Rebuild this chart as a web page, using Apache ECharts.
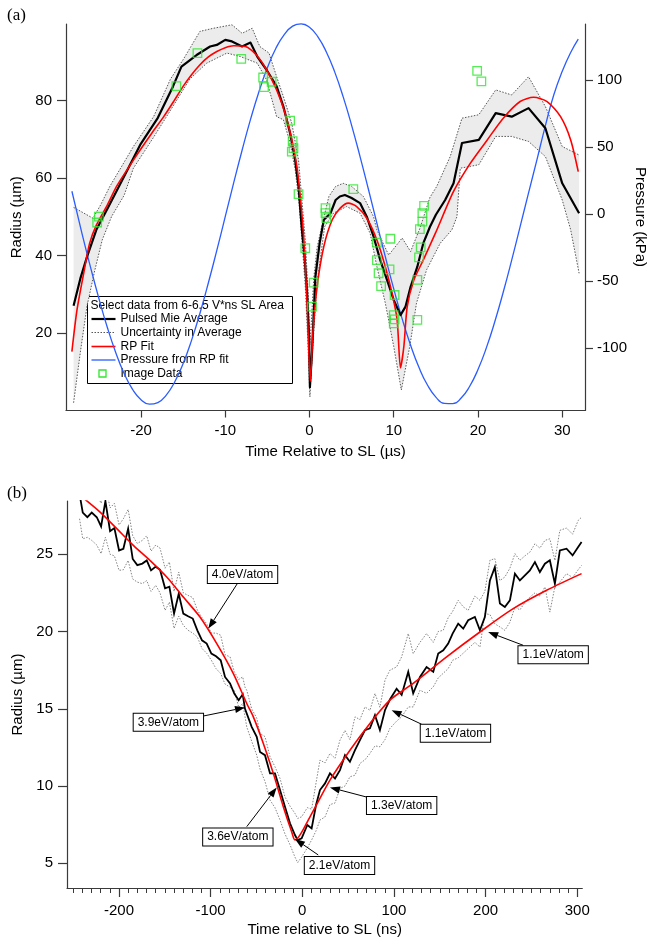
<!DOCTYPE html>
<html>
<head>
<meta charset="utf-8">
<script src="https://cdn.jsdelivr.net/npm/echarts@6/dist/echarts.min.js"></script>
<style>
  html, body { margin: 0; padding: 0; background: #ffffff; }
  #chart { width: 649px; height: 942px; }
</style>
</head>
<body>
<div id="chart"></div>
<script>
// ---------- Panel (a): microsecond time scale ----------
const meanTimeUs = [-28.0,-27.2,-26.4,-25.3,-24.0,-22.1,-20.1,-18.0,-16.2,-15.2,-13.4,-11.8,-11.0,-10.0,-9.2,-8.0,-7.0,-6.2,-5.1,-3.9,-3.1,-2.3,-1.7,-1.3,-0.9,-0.6,-0.3,-0.05,0.05,0.3,0.7,1.2,1.7,2.5,3.1,3.6,4.2,5.0,6.0,6.8,7.6,8.4,9.2,10.0,10.8,11.4,12.0,12.8,13.5,14.3,15.0,16.1,17.1,18.1,20.1,22.1,24.0,26.0,28.0,30.0,32.0];
const meanRadiusUm = [27.0,34.0,39.7,46.6,52.0,60.0,68.5,75.5,83.6,88.7,91.7,93.9,94.3,95.6,95.2,93.9,94.9,91.3,87.9,83.6,78.4,71.5,64.6,57.8,46.6,40.0,31.0,19.0,6.0,15.0,34.5,43.1,49.2,50.9,54.3,55.2,55.6,54.8,53.5,50.0,44.9,38.8,33.7,28.5,24.6,26.8,31.9,37.1,43.1,47.4,50.5,54.3,58.6,69.0,69.8,76.7,75.8,78.0,72.8,58.6,50.9];

const upperTimeUs = [-28.0,-25.7,-24.8,-23.7,-20.9,-18.5,-16.5,-15.0,-13.0,-11.4,-9.2,-8.0,-6.8,-5.9,-4.8,-3.9,-3.1,-2.1,-1.3,-0.9,-0.5,-0.15,0.05,0.25,0.5,0.9,1.4,2.3,3.1,4.0,5.0,6.4,7.6,8.0,9.4,11.0,12.0,13.1,14.3,15.1,16.7,18.1,20.1,22.1,24.0,26.0,28.0,30.0,32.0];
const upperRadiusUm = [52.4,49.6,53.0,57.8,68.1,75.8,85.5,90.5,97.8,98.6,99.5,97.3,98.6,93.9,92.2,86.1,81.0,74.1,64.6,54.3,44.0,30.0,17.0,24.0,34.0,42.0,47.0,55.2,57.8,58.6,57.8,55.2,50.0,46.6,40.1,44.5,41.0,47.0,55.0,57.8,65.5,75.4,76.3,82.7,81.4,86.1,78.4,68.1,65.9];

const lowerTimeUs = [-28.0,-27.2,-26.4,-25.5,-24.6,-23.5,-22.0,-20.9,-18.5,-16.2,-14.2,-12.2,-9.8,-8.2,-6.2,-5.1,-3.9,-3.1,-2.3,-1.7,-1.3,-0.9,-0.5,-0.2,0.05,0.2,0.5,0.9,1.8,2.85,4.4,6.0,7.2,8.0,9.0,10.0,10.9,11.9,12.7,13.9,15.5,16.9,17.5,17.9,20.1,22.1,24.0,26.0,28.0,30.0,31.0,32.0];
const lowerRadiusUm = [2.0,15.0,27.0,36.0,44.0,50.0,55.5,62.5,70.5,78.5,85.5,89.6,92.2,91.3,89.6,85.3,75.8,75.0,69.0,62.1,55.0,44.0,32.0,18.0,3.5,10.0,20.0,33.0,47.4,50.9,52.6,50.9,45.7,37.1,27.7,16.5,5.3,16.5,27.7,36.3,43.1,46.6,50.0,62.5,63.4,70.7,70.7,69.4,65.5,54.3,46.6,35.4];

const fitTimeUs = [-28.2,-27.6,-26.8,-26.1,-25.3,-24.0,-22.9,-21.5,-20.1,-18.7,-17.3,-16.1,-15.0,-14.0,-13.0,-12.0,-11.0,-10.0,-9.0,-7.6,-6.3,-5.1,-3.9,-2.9,-2.1,-1.5,-1.1,-0.7,-0.3,0.1,0.4,0.9,1.7,2.7,3.65,4.6,5.6,6.8,8.0,9.0,9.8,10.4,10.8,11.2,11.6,12.4,13.5,15.0,17.1,19.1,21.1,23.0,25.0,26.6,28.2,29.8,31.0,31.9];
const fitRadiusUm = [15.2,25.9,35.4,43.1,47.8,53.0,57.8,62.6,67.2,71.6,75.8,79.8,83.6,86.6,89.2,91.2,92.6,93.6,94.1,93.9,91.7,87.9,82.7,76.7,69.8,62.9,55.2,45.0,28.5,7.5,19.9,31.9,42.3,49.2,52.2,53.5,52.6,49.6,44.0,37.1,30.2,23.4,11.0,16.5,26.8,33.7,38.8,46.0,56.5,63.8,69.8,75.4,79.7,80.8,79.7,75.8,69.8,61.6];

const pressureTimeUs = [-28.2,-27,-26,-25,-24,-23,-22,-21,-20,-19,-18,-17,-16,-15,-14,-13,-12,-11,-10,-9,-8,-7,-6,-5,-4,-3,-2,-1,0,1,2,3,4,5,6,7,8,9,10,11,12,13,14,15,16,17,18,19,20,21,22,23,24,25,26,27,28,29,30,31,31.9];
const pressureKPa = [17.0,-14.6,-39.4,-62.9,-84.5,-103.3,-119.0,-130.8,-138.5,-141.9,-140.7,-135.1,-125.3,-111.6,-94.3,-74.0,-51.3,-27.1,-2.0,23.2,47.6,70.6,91.3,109.1,123.5,133.9,140.2,142.0,139.3,132.2,120.9,105.9,87.4,66.2,42.9,18.3,-6.9,-31.9,-55.9,-78.2,-97.9,-114.6,-127.6,-136.6,-141.3,-141.5,-137.3,-128.7,-116.0,-99.7,-80.2,-58.2,-34.4,-9.4,15.8,40.6,66.0,89.0,106.5,120.5,130.5];

const imageTimeUs = [-25.2,-25.0,-15.8,-13.3,-8.1,-5.5,-5.4,-4.5,-2.3,-2.0,-1.9,-2.1,-1.3,-0.5,0.3,0.5,1.9,1.9,2.0,5.2,8.0,8.0,8.2,8.5,9.5,9.6,10.1,10.0,10.1,10.0,12.8,12.8,13.0,13.2,13.1,13.4,13.4,13.6,19.9,20.4];
const imageRadiusUm = [48.5,50.0,83.7,92.2,90.7,85.9,83.4,84.8,74.8,69.5,67.7,66.8,55.8,41.9,26.8,33.0,52.2,50.9,49.6,57.1,43.3,38.8,35.4,32.1,36.4,44.3,29.8,24.6,23.5,22.5,23.4,33.7,39.5,42.1,46.8,48.7,50.9,52.8,87.6,84.9];

const radiusTicksA = [20, 40, 60, 80];
const pressureTicksA = [-100, -50, 0, 50, 100];
const timeTicksA = [-20, -10, 0, 10, 20, 30];

// ---------- Panel (b): nanosecond time scale ----------
const meanTimeNs = [-243,-239.5,-234.5,-229.7,-224.2,-219.5,-214.8,-209.7,-205,-199.9,-195.2,-190,-185,-180,-174.5,-169.7,-165,-159.9,-155.2,-149.7,-145,-139.9,-134.8,-129.8,-124.6,-119.5,-114.5,-109.4,-104.3,-99.2,-94.1,-89,-84.3,-78.8,-74.2,-69.4,-65,-62.5,-60.6,-55.2,-49.7,-46.1,-40.7,-35.2,-29.8,-24.3,-18.9,-13.4,-8.0,-5.0,-0.7,5.5,10.2,15,19.3,24.8,30.2,35.7,41.1,46.6,52,57.5,62.9,68.4,73.8,79.3,84.7,90.2,95.6,102.9,108.4,115.6,121,128.4,135.6,142.9,148.3,153.8,159.2,164,170.1,175.6,181,188.3,193.8,199.2,204.7,210.1,215.6,221,226.5,232,237.4,242.9,248.3,253.8,259.2,264.7,270.1,275.6,281,288.3,294.9,301,304.7];
const meanRadiusB = [28.9,27.7,27.4,27.7,27.4,26.8,28.44,26.5,26.7,25.25,25.36,26.66,24.7,24.3,24.4,24.6,23.96,24.2,24.0,22.8,22.9,21.16,22.45,21.16,20.99,20.84,20.08,19.43,19.22,18.57,18.4,18.14,17.06,16.64,15.99,15.56,15.94,15.0,15.0,13.83,13.18,12.2,12.0,10.82,10.82,9.74,8.66,7.59,6.83,6.5,6.62,7.48,7.26,8.77,9.74,10.17,10.82,10.49,11.03,12.0,11.57,12.32,12.97,13.62,13.73,14.59,13.62,14.91,15.6,16.3,15.9,17.39,16.0,17.06,17.71,17.39,18.58,18.79,19.22,19.87,20.51,20.19,20.73,20.94,20.08,20.94,23.31,24.17,21.81,21.59,22.02,23.75,23.31,23.64,23.96,24.5,23.85,24.39,24.61,23.1,25.25,25.36,24.93,25.47,25.79];
const upperRadiusB = [29.6,29.1,28.6,29.2,28.9,28.3,29.5,28.0,28.3,26.9,27.3,27.9,26.2,25.7,25.9,26.2,25.2,25.6,25.4,24.1,24.5,22.6,23.85,22.5,22.34,22.2,21.4,20.9,20.5,19.9,19.9,19.76,18.5,18.36,17.4,16.9,17.06,16.4,16.2,15.0,14.4,13.4,13.2,11.9,11.25,10.5,9.3,8.7,8.23,7.9,8.01,8.6,8.5,10.2,11.68,11.5,12.11,11.8,12.97,13.6,13.0,14.48,14.3,15.12,14.9,15.99,15.1,16.85,17.5,17.71,18.36,19.87,18.57,19.3,19.87,19.3,20.0,20.08,20.9,21.3,22.02,21.6,21.37,22.3,22.02,22.6,24.61,24.72,23.3,23.53,24.1,25.04,24.61,24.9,25.14,25.68,25.4,25.9,26.0,24.6,26.55,26.7,26.3,27.19,27.4];
const lowerRadiusB = [27.3,26.0,26.1,25.9,25.6,25.04,26.1,25.0,24.9,23.96,24.0,24.6,23.4,23.2,23.1,23.3,22.6,22.99,22.5,21.37,21.9,20.2,21.0,20.4,20.08,19.9,19.65,18.9,18.6,18.14,17.6,17.28,16.6,16.4,16.2,15.1,15.34,14.5,13.83,12.9,12.0,11.1,10.3,9.09,8.6,7.8,6.9,6.2,5.4,5.04,5.4,6.0,6.51,7.1,7.8,8.0,8.8,8.9,9.85,10.0,10.6,10.7,11.46,11.7,12.11,12.6,12.54,13.0,13.73,14.2,14.48,15.12,15.12,16.2,16.0,16.42,17.0,17.3,17.6,18.14,18.3,18.6,18.9,19.3,19.0,21.16,21.1,20.5,20.3,20.08,20.6,21.59,21.4,21.9,22.23,22.5,22.3,22.88,21.26,22.9,23.2,23.75,23.5,24.0,24.28];

const fitTimeNs = [-238,-220.6,-202.4,-184.3,-166.1,-147.9,-129.8,-111.6,-93.3,-75.2,-60.6,-53.4,-42.5,-31.6,-20.7,-11.6,-8.0,8.4,30.2,52,73.8,95.6,121,157.5,193.8,230.1,266.5,304.7];
const fitRadiusNs = [28.6,27.73,26.66,25.58,24.6,23.53,22.23,20.94,19.22,17.28,15.34,14.48,12.76,10.82,8.66,7.04,6.51,8.01,10.38,12.32,14.05,15.56,16.64,18.36,19.97,21.48,22.67,23.75];

// Energy annotations: label box, arrow tail and arrow tip in data units
const annoText = ['4.0eV/atom','3.9eV/atom','3.6eV/atom','2.1eV/atom','1.3eV/atom','1.1eV/atom','1.1eV/atom'];
const annoBoxTime = [-65.2,-146.1,-70.3,40.6,108.4,167.1,273.7];
const annoBoxRadius = [23.70,14.13,6.70,4.86,8.74,13.41,18.5];
const annoTailTime = [-70.9,-109,-60.6,17.4,71.3,130.2,241];
const annoTailRadius = [23.1,14.52,7.37,5.54,9.27,14.0,19.11];
const annoTipTime = [-102.5,-62.5,-27.9,-8.0,30.2,97.5,202.8];
const annoTipRadius = [20.19,15.08,9.91,6.57,9.91,14.91,19.97];

const radiusTicksB = [5, 10, 15, 20, 25];
const timeTicksB = [-200, -100, 0, 100, 200, 300];
const minorTicksB = [];
for (let v = -250; v <= 300; v += 10) minorTicksB.push(v);

// ---------- helpers ----------
const SANS = '"Liberation Sans", Arial, Helvetica, sans-serif';
const SERIF = '"Liberation Serif", "Times New Roman", serif';
const AXIS_COLOR = '#3a3a3a';
const pairs = (xs, ys) => xs.map((x, i) => [x, ys[i]]);

function valueAxis(extra) {
  return Object.assign({
    type: 'value',
    axisLine: { show: true, onZero: false, lineStyle: { color: AXIS_COLOR, width: 1.2 } },
    axisTick: { show: true, lineStyle: { color: AXIS_COLOR, width: 1.2 } },
    axisLabel: { color: '#000', fontSize: 15, fontFamily: SANS },
    splitLine: { show: false },
    nameLocation: 'middle',
    nameTextStyle: { color: '#000', fontSize: 15, fontFamily: SANS }
  }, extra);
}

const chart = echarts.init(document.getElementById('chart'), null, { renderer: 'canvas' });

const option = {
  animation: false,
  backgroundColor: '#ffffff',
  grid: [
    { left: 66, top: 24, width: 519, height: 386.5, containLabel: false, outerBoundsMode: 'none' },
    { left: 67, top: 501, width: 515.3, height: 387, containLabel: false, outerBoundsMode: 'none' }
  ],
  xAxis: [
    valueAxis({
      gridIndex: 0, min: -28.9, max: 32.7,
      axisTick: { show: true, length: 7, customValues: timeTicksA, lineStyle: { color: AXIS_COLOR, width: 1.2 } },
      axisLabel: { customValues: timeTicksA, margin: 13, color: '#000', fontSize: 15, fontFamily: SANS },
      name: 'Time Relative to SL (\u00b5s)', nameGap: 34
    }),
    valueAxis({
      gridIndex: 1, min: -256.7, max: 305.5, position: 'bottom',
      axisTick: { show: true, length: 9, customValues: timeTicksB, lineStyle: { color: AXIS_COLOR, width: 1.2 } },
      axisLabel: { customValues: timeTicksB, margin: 15, color: '#000', fontSize: 15, fontFamily: SANS },
      name: 'Time relative to SL (ns)', nameGap: 34
    }),
    valueAxis({
      gridIndex: 1, min: -256.7, max: 305.5, position: 'bottom',
      axisLine: { show: false, onZero: false },
      axisTick: { show: true, length: 5, customValues: minorTicksB, lineStyle: { color: AXIS_COLOR, width: 1 } },
      axisLabel: { show: false }
    })
  ],
  yAxis: [
    valueAxis({
      gridIndex: 0, min: 0, max: 99.7, position: 'left',
      axisTick: { show: true, length: 9, customValues: radiusTicksA, lineStyle: { color: AXIS_COLOR, width: 1.2 } },
      axisLabel: { customValues: radiusTicksA, margin: 14, color: '#000', fontSize: 15, fontFamily: SANS },
      name: 'Radius (\u00b5m)', nameGap: 39
    }),
    valueAxis({
      gridIndex: 0, min: -146.6, max: 141.8, position: 'right',
      axisTick: { show: true, length: 8, customValues: pressureTicksA, lineStyle: { color: AXIS_COLOR, width: 1.2 } },
      axisLabel: { customValues: pressureTicksA, margin: 12, color: '#000', fontSize: 15, fontFamily: SANS }
    }),
    valueAxis({
      gridIndex: 1, min: 3.4, max: 28.45, position: 'left',
      axisTick: { show: true, length: 9, customValues: radiusTicksB, lineStyle: { color: AXIS_COLOR, width: 1.2 } },
      axisLabel: { customValues: radiusTicksB, margin: 14, color: '#000', fontSize: 15, fontFamily: SANS },
      name: 'Radius (\u00b5m)', nameGap: 39
    })
  ],
  series: [
    // uncertainty envelope of the averaged radius
    {
      type: 'custom', xAxisIndex: 0, yAxisIndex: 0, z: 1, silent: true,
      data: [[0, 0]],
      renderItem: function (params, api) {
        const pts = [];
        for (let i = 0; i < upperTimeUs.length; i++) pts.push(api.coord([upperTimeUs[i], upperRadiusUm[i]]));
        for (let i = lowerTimeUs.length - 1; i >= 0; i--) pts.push(api.coord([lowerTimeUs[i], lowerRadiusUm[i]]));
        return { type: 'polygon', shape: { points: pts }, style: { fill: '#ececec', stroke: null } };
      }
    },
    {
      type: 'line', xAxisIndex: 0, yAxisIndex: 0, z: 2, showSymbol: false, silent: true,
      data: pairs(upperTimeUs, upperRadiusUm),
      lineStyle: { color: '#444', width: 0.9, type: [1.5, 1.5] }
    },
    {
      type: 'line', xAxisIndex: 0, yAxisIndex: 0, z: 2, showSymbol: false, silent: true,
      data: pairs(lowerTimeUs, lowerRadiusUm),
      lineStyle: { color: '#444', width: 0.9, type: [1.5, 1.5] }
    },
    {
      type: 'line', xAxisIndex: 0, yAxisIndex: 1, z: 3, showSymbol: false, silent: true, smooth: true,
      data: pairs(pressureTimeUs, pressureKPa),
      lineStyle: { color: '#2a5cff', width: 1.3 }
    },
    {
      type: 'line', xAxisIndex: 0, yAxisIndex: 0, z: 4, showSymbol: false, silent: true,
      data: pairs(meanTimeUs, meanRadiusUm),
      lineStyle: { color: '#000', width: 2.2, join: 'round' }
    },
    {
      type: 'line', xAxisIndex: 0, yAxisIndex: 0, z: 5, showSymbol: false, silent: true, smooth: 0.25,
      data: pairs(fitTimeUs, fitRadiusUm),
      lineStyle: { color: '#ff0000', width: 1.6 }
    },
    {
      type: 'scatter', xAxisIndex: 0, yAxisIndex: 0, z: 6, silent: true,
      symbol: 'rect', symbolSize: 8.5,
      data: pairs(imageTimeUs, imageRadiusUm),
      itemStyle: { color: 'rgba(0,0,0,0)', borderColor: '#2ee62e', borderWidth: 1.3 }
    },

    // panel (b)
    {
      type: 'line', xAxisIndex: 1, yAxisIndex: 2, z: 2, showSymbol: false, silent: true,
      data: pairs(meanTimeNs, upperRadiusB),
      lineStyle: { color: '#777', width: 0.9, type: [1.5, 1.5] }
    },
    {
      type: 'line', xAxisIndex: 1, yAxisIndex: 2, z: 2, showSymbol: false, silent: true,
      data: pairs(meanTimeNs, lowerRadiusB),
      lineStyle: { color: '#777', width: 0.9, type: [1.5, 1.5] }
    },
    {
      type: 'line', xAxisIndex: 1, yAxisIndex: 2, z: 4, showSymbol: false, silent: true,
      data: pairs(meanTimeNs, meanRadiusB),
      lineStyle: { color: '#000', width: 1.8, join: 'miter' }
    },
    {
      type: 'line', xAxisIndex: 1, yAxisIndex: 2, z: 5, showSymbol: false, silent: true, smooth: 0.3,
      data: pairs(fitTimeNs, fitRadiusNs),
      lineStyle: { color: '#ff0000', width: 1.6 }
    },
    {
      type: 'custom', xAxisIndex: 1, yAxisIndex: 2, z: 10, silent: true, clip: false,
      data: annoText.map((s, i) => [annoTipTime[i], annoTipRadius[i]]),
      renderItem: function (params, api) {
        const i = params.dataIndex;
        const tip = api.coord([annoTipTime[i], annoTipRadius[i]]);
        const tail = api.coord([annoTailTime[i], annoTailRadius[i]]);
        const box = api.coord([annoBoxTime[i], annoBoxRadius[i]]);
        const dx = tip[0] - tail[0], dy = tip[1] - tail[1];
        const len = Math.hypot(dx, dy);
        const ux = dx / len, uy = dy / len;
        const headLen = 10, headHalf = 3.6;
        const base = [tip[0] - ux * headLen, tip[1] - uy * headLen];
        const px = -uy, py = ux;
        return {
          type: 'group',
          children: [
            { type: 'line', shape: { x1: tail[0], y1: tail[1], x2: base[0], y2: base[1] },
              style: { stroke: '#000', lineWidth: 1 } },
            { type: 'polygon', shape: { points: [tip, [base[0] + px * headHalf, base[1] + py * headHalf], [base[0] - px * headHalf, base[1] - py * headHalf]] },
              style: { fill: '#000', stroke: null } },
            { type: 'text', x: box[0], y: box[1],
              style: { text: annoText[i], fontSize: 12, fontFamily: SANS, fill: '#000',
                       align: 'center', verticalAlign: 'middle',
                       backgroundColor: '#ffffff', borderColor: '#000', borderWidth: 1,
                       padding: [3, 4, 2, 4] } }
          ]
        };
      }
    }
  ],
  graphic: [
    { type: 'text', x: 7, y: 16, style: { text: '(a)', font: '17px ' + SERIF, fill: '#000', verticalAlign: 'middle' } },
    { type: 'text', x: 7, y: 494, style: { text: '(b)', font: '17px ' + SERIF, fill: '#000', verticalAlign: 'middle' } },
    // right-hand axis title, reading top to bottom
    { type: 'text', x: 640, y: 217, rotation: -Math.PI / 2,
      style: { text: 'Pressure (kPa)', font: '15px ' + SANS, fill: '#000', align: 'center', verticalAlign: 'middle' } },
    {
      type: 'group', x: 87.5, y: 296.5, z: 100,
      children: [
        { type: 'rect', shape: { x: 0, y: 0, width: 205, height: 87 }, style: { fill: '#fff', stroke: '#000', lineWidth: 1 } },
        { type: 'text', x: 3, y: 9, style: { text: 'Select data from 6-6.5 V*ns SL Area', font: '12px ' + SANS, fill: '#000', verticalAlign: 'middle' } },
        { type: 'line', shape: { x1: 4, y1: 22.5, x2: 28, y2: 22.5 }, style: { stroke: '#000', lineWidth: 2.2 } },
        { type: 'text', x: 33, y: 22.5, style: { text: 'Pulsed Mie Average', font: '12px ' + SANS, fill: '#000', verticalAlign: 'middle' } },
        { type: 'line', shape: { x1: 4, y1: 36, x2: 28, y2: 36 }, style: { stroke: '#444', lineWidth: 0.9, lineDash: [1.5, 1.5] } },
        { type: 'text', x: 33, y: 36, style: { text: 'Uncertainty in Average', font: '12px ' + SANS, fill: '#000', verticalAlign: 'middle' } },
        { type: 'line', shape: { x1: 4, y1: 50, x2: 28, y2: 50 }, style: { stroke: '#ff0000', lineWidth: 1.6 } },
        { type: 'text', x: 33, y: 50, style: { text: 'RP Fit', font: '12px ' + SANS, fill: '#000', verticalAlign: 'middle' } },
        { type: 'line', shape: { x1: 4, y1: 63.5, x2: 28, y2: 63.5 }, style: { stroke: '#2a5cff', lineWidth: 1.3 } },
        { type: 'text', x: 33, y: 63.5, style: { text: 'Pressure from RP fit', font: '12px ' + SANS, fill: '#000', verticalAlign: 'middle' } },
        { type: 'rect', shape: { x: 11.5, y: 73.5, width: 7, height: 7 }, style: { fill: 'rgba(0,0,0,0)', stroke: '#2ee62e', lineWidth: 1.3 } },
        { type: 'text', x: 33, y: 77.5, style: { text: 'Image Data', font: '12px ' + SANS, fill: '#000', verticalAlign: 'middle' } }
      ]
    }
  ]
};

chart.setOption(option);
</script>
</body>
</html>
